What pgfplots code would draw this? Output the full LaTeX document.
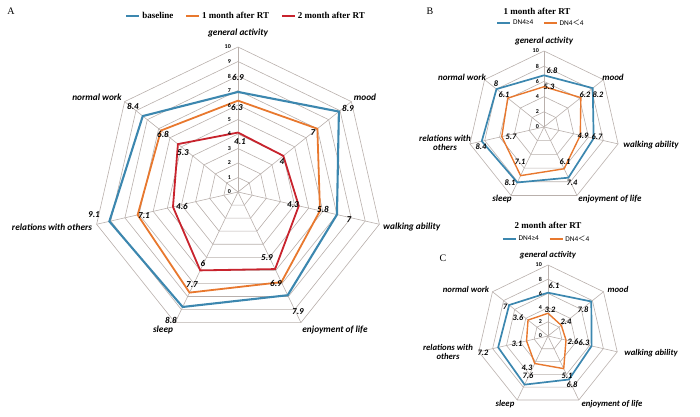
\documentclass[border=0pt]{standalone}
\usepackage{pgfplots}
\pgfplotsset{compat=1.18}
\usepgfplotslibrary{polar}
\usepackage{fontspec}
\setmainfont{Liberation Serif}
\newfontfamily\calfont{Carlito}
\newfontfamily\cjk{Noto Sans CJK SC}
\definecolor{cblue}{RGB}{60,135,175}
\definecolor{corange}{RGB}{232,120,46}
\definecolor{cred}{RGB}{200,35,45}
\definecolor{cgrid}{RGB}{185,176,172}
\pgfplotsset{
  radar/.style={hide axis, xmin=0, xmax=360, ymin=0, ymax=10, enlargelimits=false,
    scale only axis, clip=false,
    legend style={draw=none, fill=none, anchor=center},
    legend image code/.code={\draw[##1] (0pt,0pt) -- (13pt,0pt);},
  },
}
\newcommand{\rings}[1]{%
  \pgfplotsinvokeforeach{#1}{\addplot[cgrid, line width=0.6pt, forget plot] coordinates {(90,##1) (38.571,##1) (347.143,##1) (295.714,##1) (244.286,##1) (192.857,##1) (141.429,##1) (90,##1)};}%
  \pgfplotsinvokeforeach{90,38.571,347.143,295.714,244.286,192.857,141.429}{\addplot[cgrid, line width=0.6pt, forget plot] coordinates {(##1,0) (##1,10)};}%
}
\begin{document}
\begin{tikzpicture}
\useasboundingbox (0,0) rectangle (700pt,416pt);
% ---------------- A ----------------
\begin{polaraxis}[radar, at={(238pt,224pt)}, anchor=center, width=290pt, height=290pt,
  legend style={at={(0.528,1.107)}, legend columns=3, font=\bfseries\fontsize{9}{10}\selectfont,
    /tikz/every even column/.append style={column sep=10pt}}]
\rings{1,...,10}
\addplot[cblue, line width=2.1pt] coordinates {(90,6.9) (38.571,8.9) (347.143,7) (295.714,7.9) (244.286,8.8) (192.857,9.1) (141.429,8.4) (90,6.9)};
\addlegendentry{baseline}
\addplot[corange, line width=1.8pt] coordinates {(90,6.3) (38.571,7) (347.143,5.8) (295.714,6.9) (244.286,7.7) (192.857,7.1) (141.429,6.8) (90,6.3)};
\addlegendentry{1 month after RT}
\addplot[cred, line width=1.8pt] coordinates {(90,4.1) (38.571,4) (347.143,4.3) (295.714,5.9) (244.286,6) (192.857,4.6) (141.429,5.3) (90,4.1)};
\addlegendentry{2 month after RT}
\end{polaraxis}
% ---------------- B ----------------
\begin{polaraxis}[radar, at={(544pt,289pt)}, anchor=center, width=152pt, height=152pt,
  legend style={at={(0.48,1.184)}, legend columns=2, font=\calfont\fontsize{7.3}{8}\selectfont,
    /tikz/every even column/.append style={column sep=8pt}}]
\rings{2,4,6,8,10}
\addplot[cblue, line width=1.7pt] coordinates {(90,6.8) (38.571,8.2) (347.143,6.7) (295.714,7.4) (244.286,8.1) (192.857,8.4) (141.429,8) (90,6.8)};
\addlegendentry{DN4≥4}
\addplot[corange, line width=1.4pt] coordinates {(90,5.3) (38.571,6.2) (347.143,4.9) (295.714,6.1) (244.286,7.1) (192.857,5.7) (141.429,6.1) (90,5.3)};
\addlegendentry{DN4{\cjk ＜}4}
\end{polaraxis}
% ---------------- C ----------------
\begin{polaraxis}[radar, at={(548pt,80pt)}, anchor=center, width=142pt, height=142pt,
  legend style={at={(0.49,1.183)}, legend columns=2, font=\calfont\fontsize{7.3}{8}\selectfont,
    /tikz/every even column/.append style={column sep=8pt}}]
\rings{2,4,6,8,10}
\addplot[cblue, line width=1.7pt] coordinates {(90,6.1) (38.571,7.8) (347.143,6.3) (295.714,6.8) (244.286,7.6) (192.857,7.2) (141.429,7) (90,6.1)};
\addlegendentry{DN4≥4}
\addplot[corange, line width=1.4pt] coordinates {(90,3.2) (38.571,2.4) (347.143,2.6) (295.714,5.1) (244.286,4.3) (192.857,3.1) (141.429,3.6) (90,3.2)};
\addlegendentry{DN4{\cjk ＜}4}
\end{polaraxis}
% ---------------- text ----------------
\begin{scope}[shift={(0pt,416pt)}, x=1pt, y=-1pt]
\tikzset{cat/.style={font=\calfont\bfseries\itshape\fontsize{9.3}{10}\selectfont, inner sep=0pt},
         val/.style={font=\calfont\bfseries\itshape\fontsize{9}{10}\selectfont, inner sep=0pt},
         tk/.style={font=\calfont\bfseries\fontsize{6}{7}\selectfont, inner sep=0pt},
         catS/.style={font=\calfont\bfseries\itshape\fontsize{9}{9.5}\selectfont, inner sep=0pt, align=center},
         catC/.style={font=\calfont\bfseries\itshape\fontsize{8.7}{9.3}\selectfont, inner sep=0pt, align=center},
         valS/.style={font=\calfont\bfseries\itshape\fontsize{8.3}{9}\selectfont, inner sep=0pt}}
% panel letters and titles
\node[font=\fontsize{10}{11}\selectfont] at (11,11) {A};
\node[font=\fontsize{10}{11}\selectfont] at (430,11) {B};
\node[font=\fontsize{10}{11}\selectfont] at (443,258) {C};
\node[font=\bfseries\fontsize{9}{10}\selectfont] at (537,11) {1 month after RT};
\node[font=\bfseries\fontsize{9}{10}\selectfont] at (548,225) {2 month after RT};
% A categories
\node[cat] at (238,33) {general activity};
\node[cat] at (365,97) {mood};
\node[cat, anchor=west] at (383,227) {walking ability};
\node[cat] at (335,330) {enjoyment of life};
\node[cat] at (163,330) {sleep};
\node[cat] at (52,227) {relations with others};
\node[cat] at (97,97) {normal work};
% A ticks
\foreach \v in {0,...,10} {\node[tk, anchor=east] at (231,{192-14.5*\v}) {\v};}
% A values
\node[val] at (238,77) {6.9};
\node[val] at (237,107) {6.3};
\node[val] at (240,142) {4.1};
\node[val] at (348,108) {8.9};
\node[val] at (313,133) {7};
\node[val] at (282,162) {4};
\node[val] at (349,220) {7};
\node[val] at (323,209) {5.8};
\node[val] at (293,205) {4.3};
\node[val] at (298,312) {7.9};
\node[val] at (276,283) {6.9};
\node[val] at (267,258) {5.9};
\node[val] at (171,320) {8.8};
\node[val] at (192,285) {7.7};
\node[val] at (203,263) {6};
\node[val] at (94,215) {9.1};
\node[val] at (144,216) {7.1};
\node[val] at (182,206) {4.6};
\node[val] at (133,106) {8.4};
\node[val] at (163,134) {6.8};
\node[val] at (183,153) {5.3};
% B categories
\node[catS] at (544,41) {general activity};
\node[catS] at (613,77) {mood};
\node[catS] at (651,145) {walking ability};
\node[catS] at (610,199) {enjoyment of life};
\node[catS] at (502,199) {sleep};
\node[catS] at (445,143) {relations with\\others};
\node[catS] at (462,77) {normal work};
\foreach \v in {0,2,4,6,8,10} {\node[tk, anchor=east] at (539,{127-7.6*\v}) {\v};}
% B values
\node[valS] at (552,71) {6.8};
\node[valS] at (549,87) {5.3};
\node[valS] at (598,95) {8.2};
\node[valS] at (585,95) {6.2};
\node[valS] at (597,137) {6.7};
\node[valS] at (583,136) {4.9};
\node[valS] at (572,183) {7.4};
\node[valS] at (565,162) {6.1};
\node[valS] at (510,183) {8.1};
\node[valS] at (520,162) {7.1};
\node[valS] at (481,147) {8.4};
\node[valS] at (511,137) {5.7};
\node[valS] at (496,84) {8};
\node[valS] at (504,95) {6.1};
% C categories
\node[catC] at (548,255) {general activity};
\node[catC] at (618,289) {mood};
\node[catC] at (651,353) {walking ability};
\node[catC] at (612,404) {enjoyment of life};
\node[catC] at (505,404) {sleep};
\node[catC] at (448,352) {relations with\\others};
\node[catC] at (466,289) {normal work};
\foreach \v in {0,2,4,6,8,10} {\node[tk, anchor=east] at (542,{336-7.1*\v}) {\v};}
% C values
\node[valS] at (554,286) {6.1};
\node[valS] at (550,310) {3.2};
\node[valS] at (583,310) {7.8};
\node[valS] at (566,322) {2.4};
\node[valS] at (584,343) {6.3};
\node[valS] at (573,342) {2.6};
\node[valS] at (572,385) {6.8};
\node[valS] at (567,376) {5.1};
\node[valS] at (528,376) {7.6};
\node[valS] at (527,368) {4.3};
\node[valS] at (483,353) {7.2};
\node[valS] at (517,344) {3.1};
\node[valS] at (505,307) {7};
\node[valS] at (518,318) {3.6};
\end{scope}
\end{tikzpicture}
\end{document}
